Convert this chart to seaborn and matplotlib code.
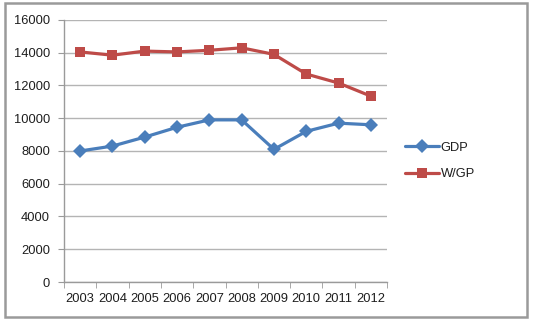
import matplotlib
matplotlib.use("Agg")
import matplotlib.pyplot as plt
from matplotlib.patches import Rectangle
from matplotlib.ticker import FixedLocator
import seaborn as sns
import pandas as pd

years = ["2003", "2004", "2005", "2006", "2007", "2008", "2009", "2010", "2011", "2012"]
gdp = [8000, 8300, 8850, 9450, 9900, 9900, 8100, 9200, 9700, 9600]
wgp = [14050, 13850, 14100, 14050, 14150, 14300, 13900, 12700, 12150, 11350]
series_names = ["GDP", "W/GP"]
y_ticks = [0, 2000, 4000, 6000, 8000, 10000, 12000, 14000, 16000]

df = pd.DataFrame({
    "year": years * 2,
    "value": gdp + wgp,
    "series": [series_names[0]] * len(years) + [series_names[1]] * len(years),
})

sns.set_style("white")
plt.rcParams["font.family"] = ["Liberation Sans", "DejaVu Sans"]

fig = plt.figure(figsize=(5.35, 3.25), dpi=100)
ax = fig.add_axes([0.1196, 0.1323, 0.6038, 0.8062])

palette = {"GDP": "#4A7EBB", "W/GP": "#BE4B48"}
markers = {"GDP": "D", "W/GP": "s"}
sns.lineplot(data=df, x="year", y="value", hue="series", style="series",
             palette=palette, markers=markers, dashes=False, linewidth=2.3,
             markersize=7.2, markeredgewidth=0, ax=ax, sort=False)

ax.set_xlim(-0.5, len(years) - 0.5)
ax.set_ylim(0, 16000)
ax.set_yticks(y_ticks)
ax.set_yticklabels([str(v) for v in y_ticks])
ax.set_xlabel("")
ax.set_ylabel("")
ax.grid(axis="y", color="#b4b4b4", linewidth=1.0)
ax.grid(axis="x", visible=False)
ax.set_axisbelow(True)

for s in ["top", "right"]:
    ax.spines[s].set_visible(False)
for s in ["left", "bottom"]:
    ax.spines[s].set_color("#9a9a9a")
    ax.spines[s].set_linewidth(1.0)

ax.xaxis.set_minor_locator(FixedLocator([i - 0.5 for i in range(len(years) + 1)]))
ax.tick_params(axis="x", which="major", length=0, pad=8, labelsize=9.3, labelcolor="#1e1e1e")
ax.tick_params(axis="x", which="minor", length=4, color="#9a9a9a", direction="out", bottom=True)
ax.tick_params(axis="y", which="major", length=4, color="#9a9a9a", direction="out", left=True,
               labelsize=9.3, labelcolor="#1e1e1e", pad=6)

handles, labels = ax.get_legend_handles_labels()
ax.get_legend().remove()
fig.legend(handles, labels, loc="center left", bbox_to_anchor=(0.757, 0.505),
           frameon=False, fontsize=9.3, handlelength=2.6, handletextpad=0.15,
           labelspacing=1.1, borderpad=0, borderaxespad=0, labelcolor="#1e1e1e")

fig.patches.append(Rectangle((5 / 535, 1 - 317 / 325), 522 / 535, 314 / 325,
                             transform=fig.transFigure, fill=False,
                             edgecolor="#9a9a9a", linewidth=1.8))

fig.savefig("out.png", dpi=100)
